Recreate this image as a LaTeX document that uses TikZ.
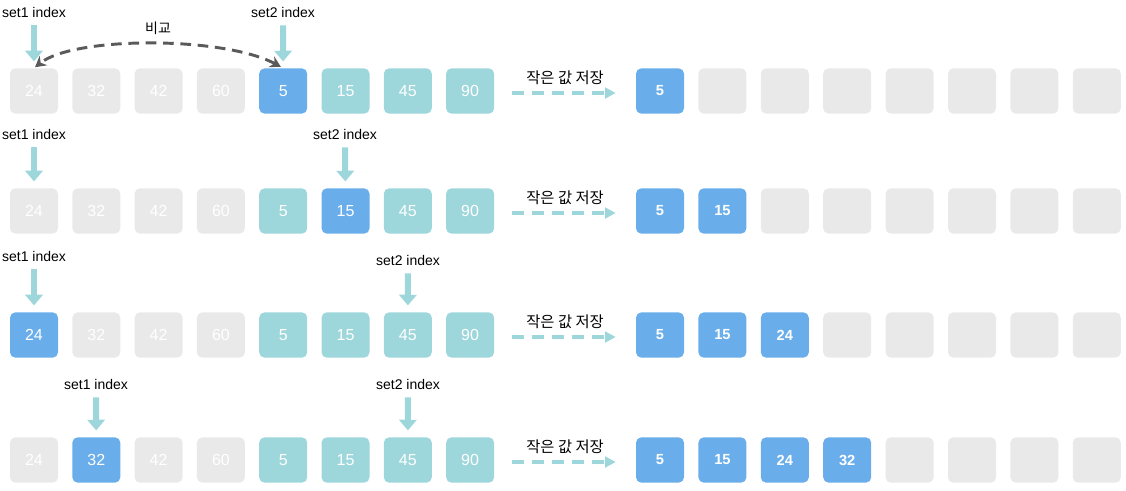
\documentclass[tikz,border=0pt]{standalone}
\usepackage{fontspec}
\setmainfont{Liberation Sans}
\newfontfamily\kr{Noto Sans CJK KR}
\usetikzlibrary{arrows.meta}

\definecolor{cellgray}{HTML}{E9E9E9}
\definecolor{cellteal}{HTML}{9ED7DB}
\definecolor{cellblue}{HTML}{69AEEA}
\definecolor{cmpgray}{HTML}{5A5A5A}

\tikzset{
  cell/.style={rounded corners=4pt, minimum width=36pt, minimum height=34pt,
    inner sep=0pt, text=white, font=\fontsize{12}{12}\selectfont},
  gcell/.style={cell, fill=cellgray},
  tcell/.style={cell, fill=cellteal},
  bcell/.style={cell, fill=cellblue},
  rcell/.style={bcell, font=\bfseries\fontsize{11}{11}\selectfont},
  idx/.style={font=\fontsize{10.5}{12}\selectfont, inner sep=1pt},
  downarrow/.style={draw=cellteal, line width=4.5pt,
    -{Triangle[width=13pt,length=8pt]}, shorten <=5pt, shorten >=5pt},
  save/.style={draw=cellteal, line width=3pt, dash pattern=on 9pt off 6pt,
    -{Triangle[width=8pt,length=8pt]}, shorten <=13.5pt, shorten >=15pt},
  savelbl/.style={font=\kr\fontsize{11.5}{13}\selectfont, above=1.5pt},
  cmp/.style={draw=cmpgray, line width=2.2pt, dash pattern=on 8pt off 5pt,
    {Stealth[length=8pt,width=9pt]}-{Stealth[length=8pt,width=9pt]},
    shorten <=2pt, shorten >=1pt}
}

\begin{document}
\begin{tikzpicture}[x=0.75pt, y=-0.75pt]
\useasboundingbox (0,0) rectangle (1126,490);

% row 1
\foreach \st/\v [count=\i] in {gcell/24,gcell/32,gcell/42,gcell/60,bcell/5,tcell/15,tcell/45,tcell/90}
  \node[\st] (r1l\i) at ({34+62.3*(\i-1)},91) {\v};
\foreach \st/\v [count=\i] in {rcell/5,gcell/,gcell/,gcell/,gcell/,gcell/,gcell/,gcell/}
  \node[\st] (r1r\i) at ({660+62.4*(\i-1)},91) {\v};
\node[idx] (s1a) at (34,12) {set1 index};
\node[idx] (s2a) at (283,12) {set2 index};
\draw[downarrow] (s1a) -- (r1l1);
\draw[downarrow] (s2a) -- (r1l5);
\draw[cmp] (r1l5.north) .. controls +(-60,-32) and +(40,-32) .. (r1l1.north);
\node[font=\kr\fontsize{10.5}{12}\selectfont] (cmplbl) at (158,28) {비교};
\draw[save] ([yshift=-1.5pt]r1l8.east) -- node[savelbl] {작은 값 저장} ([yshift=-1.5pt]r1r1.west);

% row 2
\foreach \st/\v [count=\i] in {gcell/24,gcell/32,gcell/42,gcell/60,tcell/5,bcell/15,tcell/45,tcell/90}
  \node[\st] (r2l\i) at ({34+62.3*(\i-1)},211) {\v};
\foreach \st/\v [count=\i] in {rcell/5,rcell/15,gcell/,gcell/,gcell/,gcell/,gcell/,gcell/}
  \node[\st] (r2r\i) at ({660+62.4*(\i-1)},211) {\v};
\node[idx] (s1b) at (34,134) {set1 index};
\node[idx] (s2b) at (345,134) {set2 index};
\draw[downarrow] (s1b) -- (r2l1);
\draw[downarrow] (s2b) -- (r2l6);
\draw[save] ([yshift=-1.5pt]r2l8.east) -- node[savelbl] {작은 값 저장} ([yshift=-1.5pt]r2r1.west);

% row 3
\foreach \st/\v [count=\i] in {bcell/24,gcell/32,gcell/42,gcell/60,tcell/5,tcell/15,tcell/45,tcell/90}
  \node[\st] (r3l\i) at ({34+62.3*(\i-1)},335) {\v};
\foreach \st/\v [count=\i] in {rcell/5,rcell/15,rcell/24,gcell/,gcell/,gcell/,gcell/,gcell/}
  \node[\st] (r3r\i) at ({660+62.4*(\i-1)},335) {\v};
\node[idx] (s1c) at (34,256) {set1 index};
\node[idx] (s2c) at (408,260) {set2 index};
\draw[downarrow] (s1c) -- (r3l1);
\draw[downarrow] (s2c) -- (r3l7);
\draw[save] ([yshift=-1.5pt]r3l8.east) -- node[savelbl] {작은 값 저장} ([yshift=-1.5pt]r3r1.west);

% row 4
\foreach \st/\v [count=\i] in {gcell/24,bcell/32,gcell/42,gcell/60,tcell/5,tcell/15,tcell/45,tcell/90}
  \node[\st] (r4l\i) at ({34+62.3*(\i-1)},460) {\v};
\foreach \st/\v [count=\i] in {rcell/5,rcell/15,rcell/24,rcell/32,gcell/,gcell/,gcell/,gcell/}
  \node[\st] (r4r\i) at ({660+62.4*(\i-1)},460) {\v};
\node[idx] (s1d) at (96,384) {set1 index};
\node[idx] (s2d) at (408,384) {set2 index};
\draw[downarrow] (s1d) -- (r4l2);
\draw[downarrow] (s2d) -- (r4l7);
\draw[save] ([yshift=-1.5pt]r4l8.east) -- node[savelbl] {작은 값 저장} ([yshift=-1.5pt]r4r1.west);
\end{tikzpicture}
\end{document}
